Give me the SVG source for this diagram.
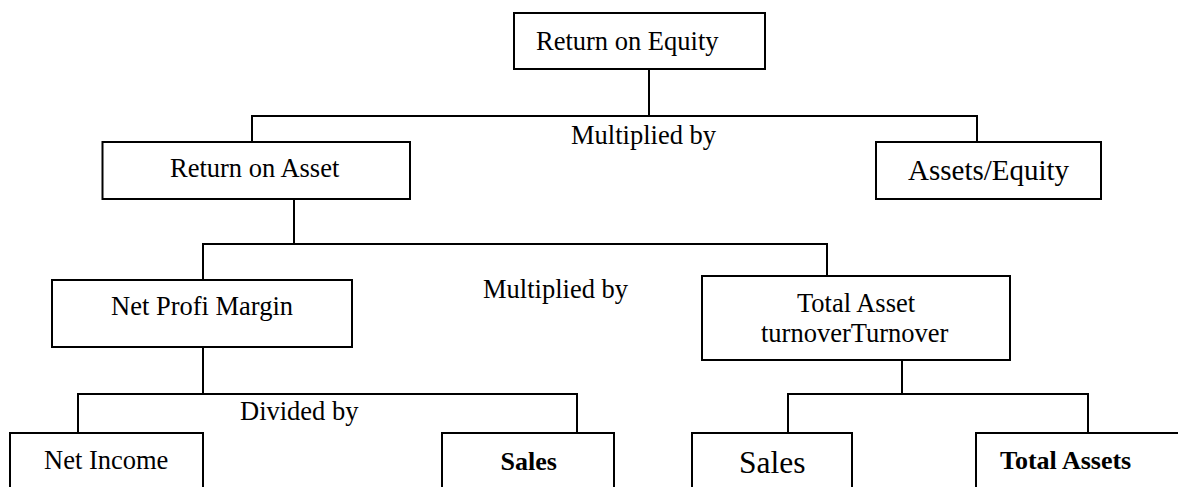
<svg xmlns="http://www.w3.org/2000/svg" width="1178" height="487" viewBox="0 0 1178 487">
<style>
.box{fill:#fff;stroke:#000;stroke-width:2}
.con{fill:none;stroke:#000;stroke-width:2}
text{font-family:"Liberation Serif","Times New Roman",serif;font-size:26.5px;fill:#000}
.b{font-weight:bold;font-size:26px}
</style>
<rect width="1178" height="487" fill="#fff"/>
<g id="connectors">
<path class="con" d="M649,69 V116"/>
<path class="con" d="M252,142 V116 H977 V142"/>
<path class="con" d="M294,199 V244"/>
<path class="con" d="M203,280 V244 H827 V276"/>
<path class="con" d="M203,347 V394"/>
<path class="con" d="M78,433 V394 H577 V433"/>
<path class="con" d="M902,360 V394"/>
<path class="con" d="M788,433 V394 H1088 V433"/>
</g>
<text x="571" y="144">Multiplied by</text>
<text x="483" y="298">Multiplied by</text>
<text x="240" y="420">Divided by</text>
<g id="roe"><rect class="box" x="514" y="13" width="251" height="56"/><text x="536" y="50">Return on Equity</text></g>
<g id="roa"><rect class="box" x="102.5" y="142" width="307.5" height="57"/><text x="170" y="177">Return on Asset</text></g>
<g id="ae"><rect class="box" x="876" y="142" width="225" height="57"/><text x="908" y="180" style="font-size:29px">Assets/Equity</text></g>
<g id="npm"><rect class="box" x="52" y="280" width="300" height="67"/><text x="111" y="315">Net Profi Margin</text></g>
<g id="tat"><rect class="box" x="702" y="276" width="308" height="84"/><text x="797" y="312">Total Asset</text><text x="761" y="342">turnoverTurnover</text></g>
<g id="ni"><rect class="box" x="10" y="433" width="193" height="80"/><text x="44" y="469">Net Income</text></g>
<g id="sales1"><rect class="box" x="442" y="433" width="172" height="80"/><text class="b" x="500.6" y="470">Sales</text></g>
<g id="sales2"><rect class="box" x="692" y="433" width="160" height="80"/><text x="739" y="473" style="font-size:31.5px">Sales</text></g>
<g id="ta"><rect class="box" x="976" y="433" width="230" height="80"/><text class="b" x="1000" y="469">Total Assets</text></g>
</svg>
